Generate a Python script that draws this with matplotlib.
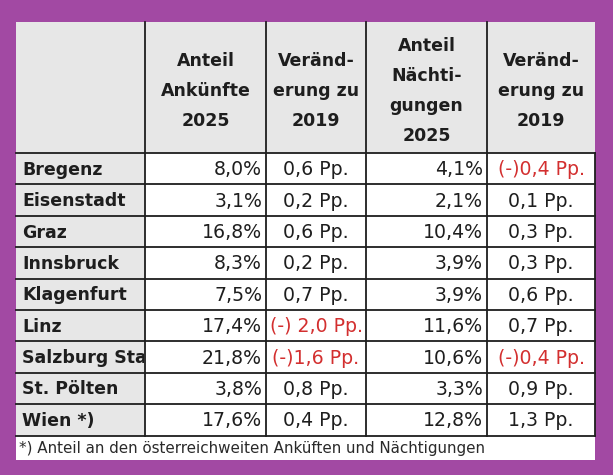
import matplotlib.pyplot as plt
from matplotlib.patches import Rectangle

# table content
cities = ['Bregenz', 'Eisenstadt', 'Graz', 'Innsbruck', 'Klagenfurt',
          'Linz', 'Salzburg Stadt', 'St. Pölten', 'Wien *)']
ank_share = ['8,0%', '3,1%', '16,8%', '8,3%', '7,5%', '17,4%', '21,8%', '3,8%', '17,6%']
ank_change = ['0,6 Pp.', '0,2 Pp.', '0,6 Pp.', '0,2 Pp.', '0,7 Pp.',
              '(-) 2,0 Pp.', '(-)1,6 Pp.', '0,8 Pp.', '0,4 Pp.']
nae_share = ['4,1%', '2,1%', '10,4%', '3,9%', '3,9%', '11,6%', '10,6%', '3,3%', '12,8%']
nae_change = ['(-)0,4 Pp.', '0,1 Pp.', '0,3 Pp.', '0,3 Pp.', '0,6 Pp.',
              '0,7 Pp.', '(-)0,4 Pp.', '0,9 Pp.', '1,3 Pp.']
headers = ['', 'Anteil\nAnkünfte\n2025', 'Veränd-\nerung zu\n2019',
           'Anteil\nNächti-\ngungen\n2025', 'Veränd-\nerung zu\n2019']
footnote = '*) Anteil an den österreichweiten Anküften und Nächtigungen'

purple = '#A249A3'
grey = '#E7E7E7'
ink = '#1E1E1E'
red = '#D32F2F'

# layout in pixels
col_x = [16, 145, 266, 366, 487, 595]
top, head_bot, row_h = 22, 153, 31.4
foot_bot = 460
font = 'DejaVu Sans'
fs = 13.6

fig = plt.figure(figsize=(6.13, 4.75), dpi=100)
fig.patch.set_facecolor(purple)
ax = fig.add_axes([0, 0, 1, 1])
ax.set_xlim(0, 613)
ax.set_ylim(475, 0)
ax.axis('off')

n = len(cities)
body_bot = head_bot + n * row_h

# backgrounds
ax.add_patch(Rectangle((col_x[0], top), col_x[-1] - col_x[0], head_bot - top, color=grey, lw=0))
ax.add_patch(Rectangle((col_x[0], head_bot), col_x[1] - col_x[0], n * row_h, color=grey, lw=0))
ax.add_patch(Rectangle((col_x[1], head_bot), col_x[-1] - col_x[1], n * row_h, color='white', lw=0))
ax.add_patch(Rectangle((col_x[0], body_bot), col_x[-1] - col_x[0], foot_bot - body_bot, color='white', lw=0))

# grid lines
lw = 1.3
for x in col_x[1:-1]:
    ax.plot([x, x], [top, body_bot], color=ink, lw=lw)
ax.plot([col_x[-1], col_x[-1]], [head_bot, body_bot], color=ink, lw=lw)
for i in range(n + 1):
    y = head_bot + i * row_h
    ax.plot([col_x[0], col_x[-1]], [y, y], color=ink, lw=lw)

# header
for j in range(1, 5):
    cx = (col_x[j] + col_x[j + 1]) / 2
    ax.text(cx, (top + head_bot) / 2 + 3.5, headers[j], ha='center', va='center',
            fontsize=12.5, fontweight='bold', family=font, color=ink, linespacing=1.88)

# rows
for i in range(n):
    cy = head_bot + (i + 0.5) * row_h + 1
    t = ax.text(col_x[0] + 6, cy, cities[i], ha='left', va='center', fontsize=12.5,
                fontweight='bold', family=font, color=ink, clip_on=True)
    clip = Rectangle((col_x[0], head_bot), col_x[1] - col_x[0] - 1, n * row_h,
                     transform=ax.transData)
    t.set_clip_path(clip)
    ax.text(col_x[2] - 4, cy, ank_share[i], ha='right', va='center', fontsize=fs,
            family=font, color=ink)
    ax.text((col_x[2] + col_x[3]) / 2, cy, ank_change[i], ha='center', va='center',
            fontsize=fs, family=font, color=red if '(-)' in ank_change[i] else ink)
    ax.text(col_x[4] - 4, cy, nae_share[i], ha='right', va='center', fontsize=fs,
            family=font, color=ink)
    ax.text((col_x[4] + col_x[5]) / 2, cy, nae_change[i], ha='center', va='center',
            fontsize=fs, family=font, color=red if '(-)' in nae_change[i] else ink)

ax.text(col_x[0] + 3, (body_bot + foot_bot) / 2 + 1, footnote, ha='left', va='center',
        fontsize=10.9, family=font, color='#2A2A2A')

fig.savefig('out.png', dpi=100, facecolor=purple)
